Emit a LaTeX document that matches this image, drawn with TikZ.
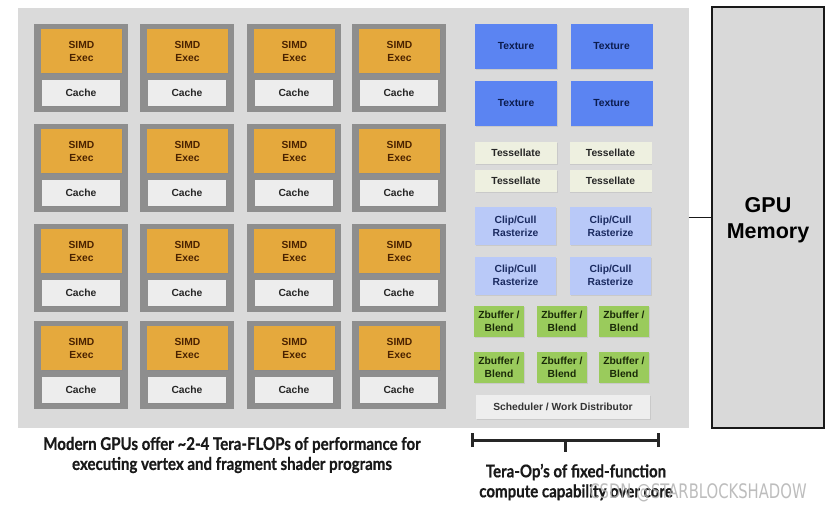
\documentclass[tikz,border=0pt]{standalone}
\usepackage{fontspec}
\setmainfont{Liberation Sans}
\newfontfamily\capfont{Lato}[FakeStretch=0.86,BoldFeatures={FakeBold=0.6}]
\newfontfamily\wmfont[FakeStretch=0.74]{DejaVu Sans}
\usetikzlibrary{shadows}
\definecolor{panelgray}{HTML}{DADADA}
\definecolor{blockgray}{HTML}{8E8E8E}
\definecolor{simdorange}{HTML}{E5A93D}
\definecolor{simdtext}{HTML}{4A2200}
\definecolor{cachefill}{HTML}{EDEDED}
\definecolor{texblue}{HTML}{5B84F2}
\definecolor{textnavy}{HTML}{0C1C4E}
\definecolor{tessfill}{HTML}{EEF0E0}
\definecolor{clipfill}{HTML}{B9C9F8}
\definecolor{cliptext}{HTML}{1A2A60}
\definecolor{zbgreen}{HTML}{9ACB5C}
\definecolor{zbtext}{HTML}{1A2A08}
\definecolor{schedfill}{HTML}{EEEEEE}
\definecolor{memfill}{HTML}{D9D9D9}
\begin{document}
\begin{tikzpicture}[x=1pt,y=-1pt,
  box/.style={inner sep=0pt,align=center,font=\fontsize{10.3}{13}\selectfont\bfseries,
     drop shadow={opacity=0.18,shadow xshift=0.8pt,shadow yshift=-1pt}},
  panelbox/.style={fill=panelgray,minimum width=671pt,minimum height=420pt,inner sep=0pt},
  smblock/.style={fill=blockgray,minimum width=94pt,minimum height=88pt,inner sep=0pt},
  simd/.style={box,fill=simdorange,text=simdtext,minimum width=81pt,minimum height=44pt},
  cache/.style={box,fill=cachefill,text=black!85,minimum width=78pt,minimum height=26pt},
  texture/.style={box,fill=texblue,text=textnavy,minimum width=82pt,minimum height=45pt},
  tess/.style={box,fill=tessfill,text=black!85,minimum width=82pt,minimum height=22pt},
  clip/.style={box,fill=clipfill,text=cliptext,minimum width=81pt,minimum height=38pt},
  zbuf/.style={box,fill=zbgreen,text=zbtext,minimum width=50pt,minimum height=31pt},
  sched/.style={box,fill=schedfill,text=black!80,minimum width=174pt,minimum height=24pt},
  memory/.style={draw=black!90,line width=1.8pt,fill=memfill,minimum width=112pt,minimum height=421pt,inner sep=0pt},
  memlabel/.style={align=center,font=\fontsize{21.5}{26}\selectfont\bfseries,inner sep=0pt},
  bracket/.style={line width=3pt,black!85},
  caption/.style={align=center,font=\capfont\bfseries\fontsize{17.5}{20}\selectfont,text=black!90,inner sep=0pt}]
\useasboundingbox[fill=white] (0,0) rectangle (840,509);
\node[panelbox] (panel) at (353,217.5) {};
\foreach \cx [count=\i] in {34,140,247,352}{
  \foreach \cy [count=\j] in {24,124,224,321}{
    \node[smblock] (blk-\i-\j) at (\cx+47,\cy+44) {};
    \node[simd] (simd-\i-\j) at (\cx+47.5,\cy+27) {SIMD\\Exec};
    \node[cache] (cache-\i-\j) at (\cx+47,\cy+69) {Cache};
  }
}
\node[texture] (tex1) at (516,46.5) {Texture};
\node[texture] (tex2) at (611.5,46.5) {Texture};
\node[texture] (tex3) at (516,103.5) {Texture};
\node[texture] (tex4) at (611.5,103.5) {Texture};
\node[tess] (tes1) at (516,153) {Tessellate};
\node[tess] (tes2) at (610.5,153) {Tessellate};
\node[tess] (tes3) at (516,181) {Tessellate};
\node[tess] (tes4) at (610.5,181) {Tessellate};
\node[clip] (clip1) at (515.5,226) {Clip/Cull\\Rasterize};
\node[clip] (clip2) at (610.5,226) {Clip/Cull\\Rasterize};
\node[clip] (clip3) at (515.5,275.5) {Clip/Cull\\Rasterize};
\node[clip] (clip4) at (610.5,275.5) {Clip/Cull\\Rasterize};
\foreach \zx [count=\i] in {499,562,624}{
  \node[zbuf] (zb-\i-1) at (\zx,321.5) {Zbuffer /\\Blend};
  \node[zbuf] (zb-\i-2) at (\zx,367) {Zbuffer /\\Blend};
}
\node[sched] (sched) at (563,407) {Scheduler / Work Distributor};
\node[memory] (mem) at (768,217.5) {};
\node[memlabel] (memtext) at (768,220) {GPU\\Memory};
\draw[line width=1.4pt,black!90] (panel.east) -- (mem.west);
\coordinate (bl) at (472,440);
\coordinate (br) at (658,440);
\coordinate (bm) at (565,440);
\coordinate (bmt) at (565,452);
\draw[bracket] (bl) -- (br);
\draw[bracket] ([yshift=-7pt]bl) -- ([yshift=7pt]bl);
\draw[bracket] ([yshift=-7pt]br) -- ([yshift=7pt]br);
\draw[bracket] (bm) -- (bmt);
\node[caption] (cap1) at (232,455) {Modern GPUs offer \textasciitilde2-4 Tera-FLOPs of performance for\\executing vertex and fragment shader programs};
\node[caption] (cap2) at (576,482) {Tera-Op’s of fixed-function\\compute capability over core};
\node[font=\wmfont\fontsize{20}{20}\selectfont,text=gray!60,opacity=0.85,inner sep=0pt] (wm) at (698,493) {CSDN @STARBLOCKSHADOW};
\end{tikzpicture}
\end{document}
